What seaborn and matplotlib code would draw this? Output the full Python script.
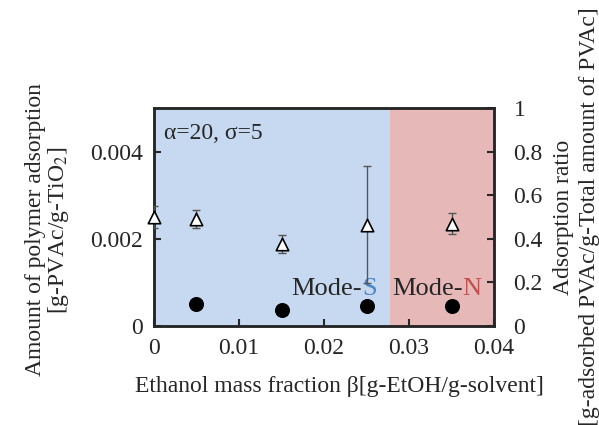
import numpy as np
import pandas as pd
import matplotlib
matplotlib.use("Agg")
import matplotlib.pyplot as plt
import seaborn as sns

# data
beta_ratio = [0.0, 0.005, 0.015, 0.025, 0.035]
ratio = [0.50, 0.49, 0.375, 0.465, 0.47]
ratio_err = [0.05, 0.04, 0.04, 0.27, 0.05]

beta_amount = [0.005, 0.015, 0.025, 0.035]
amount = [0.0005, 0.00037, 0.00045, 0.00045]

x_ticks = [0, 0.01, 0.02, 0.03, 0.04]
x_labels = ["0", "0.01", "0.02", "0.03", "0.04"]
y_ticks = [0, 0.002, 0.004]
y_labels = ["0", "0.002", "0.004"]
r_ticks = [0, 0.2, 0.4, 0.6, 0.8, 1.0]
r_labels = ["0", "0.2", "0.4", "0.6", "0.8", "1"]
boundary = 0.0278

sns.set_style("ticks")
plt.rcParams['font.family'] = ['Liberation Serif', 'DejaVu Serif']
plt.rcParams['mathtext.fontset'] = 'stix'
fs = 17

fig = plt.figure(figsize=(5.99, 4.25), dpi=100)
ax = fig.add_axes([0.257, 0.233, 0.568, 0.513])
ax2 = ax.twinx()

ax.axvspan(0, boundary, color='#c6d9f0', zorder=0, lw=0)
ax.axvspan(boundary, 0.04, color='#e6b9b8', zorder=0, lw=0)

df_amt = pd.DataFrame({'beta': beta_amount, 'amount': amount})
sns.scatterplot(data=df_amt, x='beta', y='amount', ax=ax, color='black',
                s=100, edgecolor='black', zorder=5, clip_on=False)

df_r = pd.DataFrame({'beta': beta_ratio, 'ratio': ratio, 'err': ratio_err})
ax2.errorbar(df_r['beta'], df_r['ratio'], yerr=df_r['err'], fmt='none',
             ecolor='#555555', elinewidth=1, capsize=3, capthick=1, zorder=3)
sns.scatterplot(data=df_r, x='beta', y='ratio', ax=ax2, marker='^',
                color='white', edgecolor='black', linewidth=1.2, s=80,
                zorder=5, clip_on=False)

ax.set_xlim(0, 0.04)
ax.set_ylim(0, 0.005)
ax2.set_ylim(0, 1)

ax.set_xticks(x_ticks)
ax.set_xticklabels(x_labels)
ax.set_yticks(y_ticks)
ax.set_yticklabels(y_labels)
ax2.set_yticks(r_ticks)
ax2.set_yticklabels(r_labels)

for a in (ax, ax2):
    a.tick_params(direction='in', length=5, width=1.5, labelsize=fs, pad=8)
    for sp in a.spines.values():
        sp.set_linewidth(1.8)
        sp.set_visible(True)
ax.tick_params(axis='x', pad=9)
ax2.tick_params(axis='y', pad=14)

ax.set_xlabel("Ethanol mass fraction β[g-EtOH/g-solvent]", fontsize=fs, labelpad=12)
ax.xaxis.label.set_x(0.545)
ax.set_ylabel("Amount of polymer adsorption\n[g-PVAc/g-TiO$_2$]", fontsize=fs,
              labelpad=14, linespacing=0.95)
ax.yaxis.label.set_y(0.44)
ax2.set_ylabel("Adsorption ratio\n[g-adsorbed PVAc/g-Total amount of PVAc]",
               fontsize=fs, labelpad=7, linespacing=1.35)

ax.text(0.03, 0.93, "α=20, σ=5", transform=ax.transAxes, fontsize=fs,
        va='top', ha='left')
ax.text(0.0245, 0.0006, "Mode-", fontsize=19, ha='right', va='bottom')
ax.text(0.0245, 0.0006, "S", fontsize=19, ha='left', va='bottom', color='#4a86c8')
ax.text(0.0363, 0.0006, "Mode-", fontsize=19, ha='right', va='bottom')
ax.text(0.0363, 0.0006, "N", fontsize=19, ha='left', va='bottom', color='#c0504d')

fig.savefig("out.png", dpi=100)
